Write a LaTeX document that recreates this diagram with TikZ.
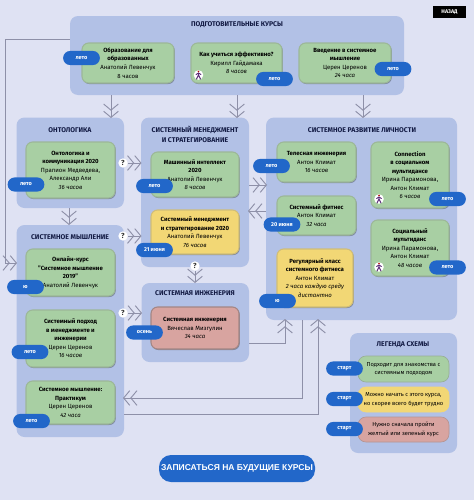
\documentclass[tikz,border=0pt]{standalone}
\usepackage{fontspec}
\setmainfont{Fira Sans}
\newfontfamily\btnfont{Liberation Sans}
\usetikzlibrary{arrows.meta,shadows,positioning}
\definecolor{bgc}{HTML}{DFE2F3}
\definecolor{panelc}{HTML}{B2C1E6}
\definecolor{greenc}{HTML}{A8CFA3}
\definecolor{yellowc}{HTML}{F2D775}
\definecolor{redc}{HTML}{D8A4A0}
\definecolor{bluec}{HTML}{2267C9}
\definecolor{linec}{HTML}{8E90A8}
\definecolor{titlec}{HTML}{141C45}
\definecolor{figc}{HTML}{5A2A78}
\tikzset{
  x=0.75pt,y=-0.75pt,
  panel/.style={fill=panelc,rounded corners=6pt,inner sep=0pt},
  ptitle/.style={font=\fontsize{5.15}{7.1}\selectfont\bfseries,text=titlec,align=center,inner sep=0pt},
  cardbase/.style={rounded corners=5pt,inner sep=0pt,line width=0.8pt,align=center,
    font=\fontsize{4.5}{6.4}\selectfont,
    drop shadow={shadow xshift=0.6pt,shadow yshift=-0.8pt,fill=black,opacity=.3}},
  gcard/.style={cardbase,fill=greenc,draw=greenc!70!gray},
  ycard/.style={cardbase,fill=yellowc,draw=yellowc!70!gray},
  rcard/.style={cardbase,fill=redc,draw=redc!60!gray!90!black},
  lcard/.style={rounded corners=6pt,inner sep=0pt,line width=0.5pt,align=center,
    font=\fontsize{4.3}{6.4}\selectfont},
  pill/.style={fill=bluec,rounded corners=5.2pt,minimum width=27.5pt,minimum height=10.6pt,
    inner sep=0pt,text=white,font=\fontsize{4.2}{5}\selectfont\bfseries},
  qmark/.style={circle,fill=white,minimum size=7pt,inner sep=0pt,text=black!80,
    font=\fontsize{5.5}{6}\selectfont\bfseries},
  conn/.style={draw=linec,line width=0.7pt},
  chev/.style={conn,-{Straight Barb[length=4.6pt,width=11pt,line width=0.7pt]Straight Barb[length=4.6pt,width=11pt,line width=0.7pt]}},
}
\newcommand{\boxnode}[7]{%
  \pgfmathsetmacro\bw{(#4-#2)*0.75}\pgfmathsetmacro\bh{(#5-#3)*0.75}%
  \pgfmathsetmacro\bx{(#2+#4)/2}\pgfmathsetmacro\by{(#3+#5)/2}%
  \node[#6,minimum width=\bw pt,minimum height=\bh pt] (#1) at (\bx,\by) {#7};}
\newcommand{\pillat}[4]{\node[pill] (#1) at (#2,#3) {#4};}
\newcommand{\ttl}[1]{{\bfseries #1}}
\newcommand{\runner}[3]{%
  \node[circle,fill=white,minimum size=7.2pt,inner sep=0pt] (#1) at (#2,#3) {};
  \draw[figc,line width=0.7pt,line cap=round] (#2-2,#3+4) -- (#2,#3) -- (#2+2,#3+4) (#2-2.4,#3-0.5) -- (#2,#3-2) -- (#2+2.4,#3-0.5) (#2,#3-2) -- (#2,#3);
  \fill[red!70!black] (#2,#3-3.6) circle (0.9);}
\begin{document}
\begin{tikzpicture}
\useasboundingbox (0,0) rectangle (474,500);
\fill[bgc] (0,0) rectangle (474,500);
% panels
\boxnode{pprep}{70}{16}{404}{95}{panel}{}
\boxnode{pont}{16.5}{117.5}{124}{208}{panel}{}
\boxnode{pmgmt}{141}{117.5}{249}{267}{panel}{}
\boxnode{pdev}{266}{117.5}{457}{320}{panel}{}
\boxnode{pthink}{16.5}{225}{124}{437}{panel}{}
\boxnode{peng}{141.5}{283}{249}{362}{panel}{}
\boxnode{pleg}{350}{333}{457}{453}{panel}{}
% connector helper points
\coordinate (pa1) at (111,95); \coordinate (pa1e) at (111,118);
\coordinate (pa2) at (237,95); \coordinate (pa2e) at (237,118);
\coordinate (pa3) at (363,95); \coordinate (pa3e) at (363,118);
\draw[chev] (pa1) -- (pa1e);
\draw[chev] (pa2) -- (pa2e);
\draw[chev] (pa3) -- (pa3e);
\coordinate (ot) at (69,208); \coordinate (ote) at (69,225);
\draw[chev] (ot) -- (ote);
\coordinate (ls) at (70,39); \coordinate (lc1) at (5,39); \coordinate (lc2) at (5,263); \coordinate (le) at (17,263);
\draw[chev] (ls) -- (lc1) -- (lc2) -- (le);
% question marks
\node[qmark] (q1) at (123,163) {?};
\coordinate (q1e) at (141.5,163);
\draw[chev] (q1) -- (q1e);
\node[qmark] (q2) at (123,236) {?};
\coordinate (q2e) at (141.5,236);
\draw[chev] (q2) -- (q2e);
\node[qmark] (q3) at (195,266) {?};
\coordinate (q3e) at (195,283);
\draw[chev] (q3) -- (q3e);
\node[qmark] (q4) at (123,313) {?};
\coordinate (q4e) at (142,313);
\draw[chev] (q4) -- (q4e);
% mgmt <-> dev
\coordinate (m1) at (249,185); \coordinate (m1e) at (267,185);
\draw[chev] (m1) -- (m1e);
\coordinate (m2) at (266,211); \coordinate (m2e) at (248,211);
\draw[chev] (m2) -- (m2e);
% bottom connectors
\coordinate (b1) at (249,343); \coordinate (b1c) at (285,343); \coordinate (b1e) at (285,319);
\draw[chev] (b1) -- (b1c) -- (b1e);
\coordinate (b2) at (302,320); \coordinate (b2c) at (302,398); \coordinate (b2e) at (123,398);
\draw[chev] (b2) -- (b2c) -- (b2e);
\coordinate (b3) at (124,414); \coordinate (b3c) at (318,414); \coordinate (b3e) at (318,319);
\draw[chev] (b3) -- (b3c) -- (b3e);
% panel titles
\node[ptitle] (tprep) at (237,25) {ПОДГОТОВИТЕЛЬНЫЕ КУРСЫ};
\node[ptitle] (tont) at (70,130) {ОНТОЛОГИКА};
\node[ptitle] (tmgmt) at (195,134.5) {СИСТЕМНЫЙ МЕНЕДЖМЕНТ\\И СТРАТЕГИРОВАНИЕ};
\node[ptitle] (tdev) at (362,130) {СИСТЕМНОЕ РАЗВИТИЕ ЛИЧНОСТИ};
\node[ptitle] (tthink) at (70,237) {СИСТЕМНОЕ МЫШЛЕНИЕ};
\node[ptitle] (teng) at (195,293) {СИСТЕМНАЯ ИНЖЕНЕРИЯ};
\node[ptitle] (tleg) at (403,344.5) {ЛЕГЕНДА СХЕМЫ};
% cards
\boxnode{c1}{82}{43}{174}{83}{gcard}{\ttl{Образование для}\\\ttl{образованных}\\Анатолий Левенчук\\8 часов}
\boxnode{c2}{191}{43}{282}{83}{gcard}{\ttl{Как учиться эффективно?}\\Кирилл Гайдамака\\\itshape 8 часов}
\boxnode{c3}{299}{43}{391}{83}{gcard}{\ttl{Введение в системное}\\\ttl{мышление}\\Церен Церенов\\\itshape 24 часа}
\boxnode{c4}{26}{142}{115}{198}{gcard}{\ttl{Онтологика и}\\\ttl{коммуникация 2020}\\Прапион Медведева,\\Александр Али\\\itshape 36 часов}
\boxnode{c5}{151}{152}{239}{197}{gcard}{\ttl{Машинный интеллект}\\\ttl{2020}\\Анатолий Левенчук\\\itshape 8 часов}
\boxnode{c6}{151}{210}{239}{254}{ycard}{\ttl{Системный менеджмент}\\\ttl{и стратегирование 2020}\\Анатолий Левенчук\\\itshape 76 часов}
\boxnode{c7}{277}{142}{356}{182}{gcard}{\ttl{Телесная инженерия}\\Антон Климат\\\itshape 16 часов}
\boxnode{c8}{277}{196}{356}{235}{gcard}{\ttl{Системный фитнес}\\Антон Климат\\\itshape 32 часа}
\boxnode{c9}{277}{249}{353}{307}{ycard}{\ttl{Регулярный класс}\\\ttl{системного фитнеса}\\Антон Климат\\\itshape 2 часа каждую среду\\\itshape дистантно}
\boxnode{c10}{371}{142}{449}{208}{gcard}{\ttl{Connection}\\\ttl{в социальном}\\\ttl{мультидансе}\\Ирина Парамонова,\\Антон Климат\\\itshape 6 часов}
\boxnode{c11}{371}{220}{449}{276}{gcard}{\ttl{Социальный}\\\ttl{мультиданс}\\Ирина Парамонова,\\Антон Климат\\\itshape 48 часов}
\boxnode{c12}{26}{249}{115}{296}{gcard}{\ttl{Онлайн-курс}\\\ttl{"Системное мышление}\\\ttl{2019"}\\Анатолий Левенчук}
\boxnode{c13}{26}{310}{115}{367}{gcard}{\ttl{Системный подход}\\\ttl{в менеджменте и}\\\ttl{инженерии}\\Церен Церенов\\\itshape 16 часов}
\boxnode{c14}{26}{381}{115}{424}{gcard}{\ttl{Системное мышление:}\\\ttl{Практикум}\\Церен Церенов\\\itshape 42 часа}
\boxnode{c15}{151}{307}{239}{349}{rcard}{\ttl{Системная инженерия}\\Вячеслав Мизгулин\\\itshape 34 часа}
% legend cards
\boxnode{l1}{358}{356}{449}{382}{lcard,fill=greenc,draw=greenc!60!gray}{Подходит для знакомства с\\системным подходом}
\boxnode{l2}{358}{387}{449}{412}{lcard,fill=yellowc,draw=yellowc}{Можно начать с этого курса,\\но скорее всего будет трудно}
\boxnode{l3}{358}{417}{449}{442}{lcard,fill=redc,draw=redc!60!gray}{Нужно сначала пройти\\желтый или зеленый курс}
% pills
\pillat{p1}{81.5}{58}{лето}
\pillat{p2}{274.5}{79}{лето}
\pillat{p3}{393}{69}{лето}
\pillat{p4}{26}{184.5}{лето}
\pillat{p5}{154.5}{186}{лето}
\pillat{p6}{154.5}{250}{21 июня}
\pillat{p7}{271.5}{166}{лето}
\pillat{p8}{282}{224.5}{20 июня}
\pillat{p9}{277.5}{301}{ю}
\pillat{p10}{447.5}{199}{лето}
\pillat{p11}{447.5}{267.5}{лето}
\pillat{p12}{25.5}{287}{ю}
\pillat{p13}{30}{352}{лето}
\pillat{p14}{31.5}{421}{лето}
\pillat{p15}{144.5}{332.5}{осень}
\pillat{p16}{344.5}{368.5}{старт}
\pillat{p17}{344.5}{399}{старт}
\pillat{p18}{344.5}{429}{старт}
% runner icons
\runner{r1}{198.5}{75}
\runner{r2}{379}{199}
\runner{r3}{379}{267}
% button, back
\boxnode{btn}{159}{455}{315}{482}{fill=bluec,rounded corners=9pt,inner sep=0pt,text=white,font=\btnfont\fontsize{6.4}{8}\selectfont\bfseries}{ЗАПИСАТЬСЯ НА БУДУЩИЕ КУРСЫ}
\boxnode{back}{433}{6}{466}{18}{fill=black,inner sep=0pt,text=white,font=\fontsize{4}{5}\selectfont\bfseries}{НАЗАД}
\end{tikzpicture}
\end{document}
